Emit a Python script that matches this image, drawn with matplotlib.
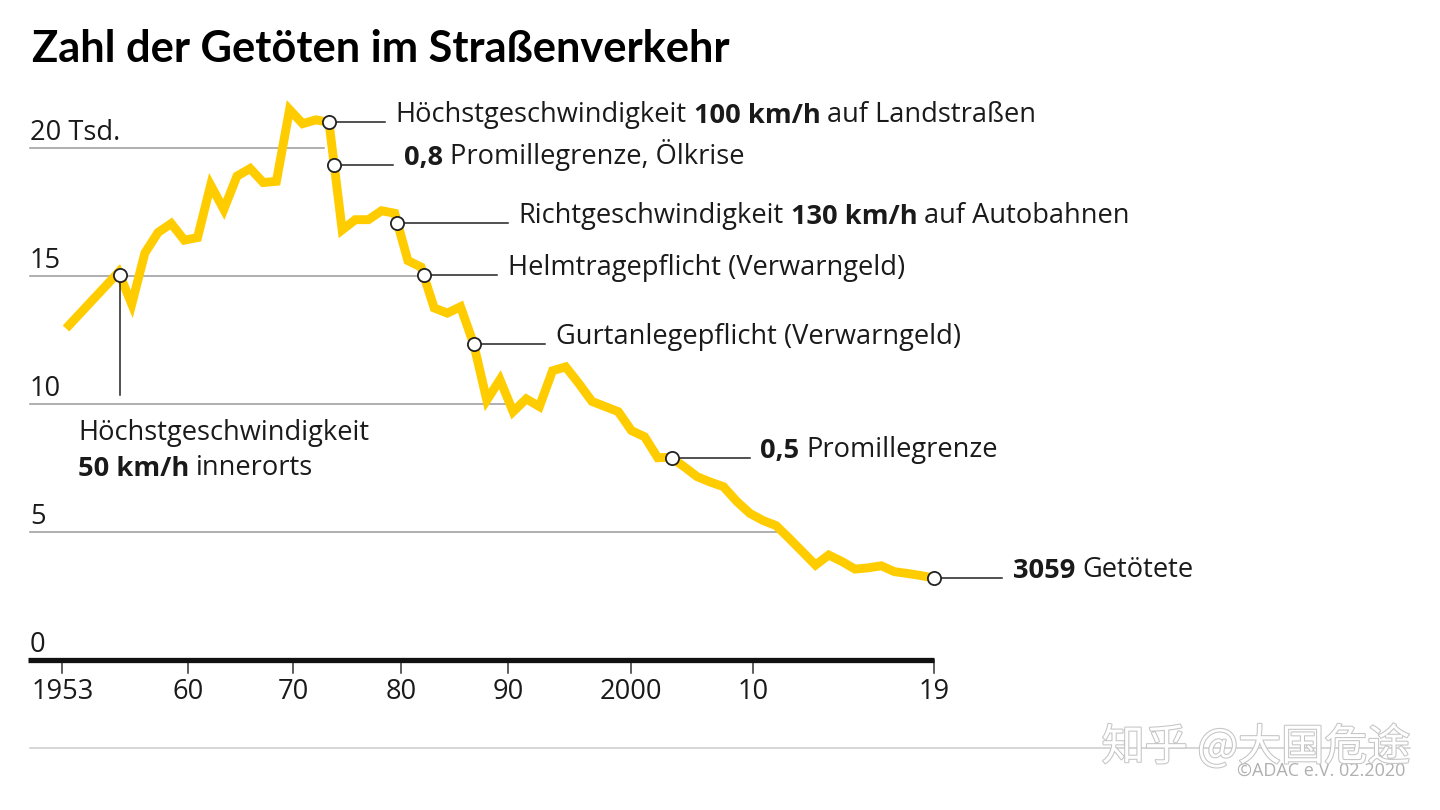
import numpy as np
import matplotlib
matplotlib.use('Agg')
import matplotlib.pyplot as plt
import matplotlib.patheffects as pe

plt.rcParams['font.family'] = ['Open Sans', 'DejaVu Sans']

# Verkehrstote pro Jahr (Tsd.)
years = list(range(1953, 2020))
deaths = [12.95, 13.5, 14.05, 14.6, 15.15, 13.9, 15.9, 16.7, 17.05, 16.4,
          16.5, 18.55, 17.6, 18.9, 19.2, 18.65, 18.7, 21.5, 20.95, 21.1,
          21.0, 16.8, 17.2, 17.2, 17.55, 17.45, 15.6, 15.35, 13.75, 13.55,
          13.8, 12.35, 10.15, 10.95, 9.7, 10.2, 9.9, 11.3, 11.45, 10.8,
          10.1, 9.9, 9.7, 8.96, 8.72, 7.9, 7.92, 7.55, 7.16, 6.95,
          6.77, 6.2, 5.73, 5.45, 5.25, 4.75, 4.23, 3.71, 4.1, 3.85,
          3.55, 3.6, 3.68, 3.45, 3.38, 3.3, 3.2]

y_ticks = [0, 5, 10, 15, 20]
y_labels = ['0', '5', '10', '15', '20 Tsd.']
grid_end = [None, 2007.3, 1986.6, 1980.4, 1972.6]   # gridline stops at the curve

# tick marks sit where the original graphic put them (not exactly on the years)
tick_pos = [1952.72, 1962.25, 1970.26, 1978.48, 1986.61, 1995.94, 2005.27, 2019.0]
tick_labels = ['1953', '60', '70', '80', '90', '2000', '10', '19']

# events: marker year on the curve, end of leader line, label pieces (text, bold)
ev_year = [1973.0, 1973.4, 1978.2, 1980.2, 1984.0, 1999.1, 2019.0]
ev_end = [1977.26, 1977.87, 1986.6, 1985.78, 1989.43, 2005.0, 2024.2]
ev_text = [
    [('Höchstgeschwindigkeit', False), ('100 km/h', True), ('auf Landstraßen', False)],
    [('0,8', True), ('Promillegrenze, Ölkrise', False)],
    [('Richtgeschwindigkeit', False), ('130 km/h', True), ('auf Autobahnen', False)],
    [('Helmtragepflicht (Verwarngeld)', False)],
    [('Gurtanlegepflicht (Verwarngeld)', False)],
    [('0,5', True), ('Promillegrenze', False)],
    [('3059', True), ('Getötete', False)],
]
ev50_year = 1957.1

YELLOW = '#FFCC00'
TXT = '#1a1a1a'
FS = 19.6

# pixel layout: 1953 -> x=66px, 13.15 px per year; 0 -> y=660px, 25.6 px per 1000
PXY, PXV = 13.15, 25.6
def px_x(p):
    return 1953 + (p - 66) / PXY
def px_y(p):
    return (660 - p) / PXV

fig = plt.figure(figsize=(14.4, 8.1), dpi=100)
ax = fig.add_axes([0, 0, 1, 1])
ax.set_xlim(px_x(0), px_x(1440))
ax.set_ylim(px_y(810), px_y(0))
ax.axis('off')


def rich(x, y, parts, size=FS):
    t = ax.text(x, y, parts[0][0], fontsize=size, color=TXT, va='baseline',
                fontweight='bold' if parts[0][1] else 'normal')
    for s, b in parts[1:]:
        t = ax.annotate(s, xy=(1, 0), xycoords=t, xytext=(5, 0),
                        textcoords='offset points', fontsize=size, color=TXT,
                        va='bottom', fontweight='bold' if b else 'normal')
    return t


# title
ax.text(px_x(32), px_y(62), 'Zahl der Getöten im Straßenverkehr', fontsize=31.2,
        fontweight='bold', color='#000', va='baseline',
        family=['Lato', 'Open Sans', 'DejaVu Sans'])

# grid + y labels
for v, lab, end in zip(y_ticks, y_labels, grid_end):
    if end is not None:
        ax.plot([px_x(30), end], [v, v], color='#9a9a9a', lw=1.1, zorder=1)
    ax.text(px_x(30), v + 0.31, lab, fontsize=FS, color=TXT, va='baseline')

# x axis
ax.plot([px_x(28), tick_pos[-1]], [0, 0], color='#111', lw=3.8,
        solid_capstyle='butt', zorder=2)
for p, lab in zip(tick_pos, tick_labels):
    ax.plot([p, p], [0, px_y(673)], color='#333', lw=1.1, zorder=1)
    ax.text(p, px_y(692), lab, fontsize=FS, color=TXT, ha='center', va='center')

# data line
ax.plot(years, deaths, color=YELLOW, lw=6.4, solid_joinstyle='miter',
        solid_capstyle='butt', zorder=3)

# annotations
for yr, end, parts in zip(ev_year, ev_end, ev_text):
    v = np.interp(yr, years, deaths)
    ax.plot([yr, end], [v, v], color='#222', lw=1.1, zorder=4)
    ax.plot(yr, v, 'o', ms=9.5, mfc='white', mec='#222', mew=1.3, zorder=5)
    rich(end + 0.8, v, parts)

v50 = np.interp(ev50_year, years, deaths)
ax.plot([ev50_year, ev50_year], [v50, px_y(395)], color='#222', lw=1.1, zorder=4)
ax.plot(ev50_year, v50, 'o', ms=9.5, mfc='white', mec='#222', mew=1.3, zorder=5)
ax.text(px_x(78), px_y(440), 'Höchstgeschwindigkeit', fontsize=FS, color=TXT,
        va='baseline')
rich(px_x(78), px_y(476), [('50 km/h', True), ('innerorts', False)])

# footer
ax.plot([px_x(30), px_x(1410)], [px_y(748), px_y(748)], color='#cccccc', lw=1.1)
ax.text(px_x(1405), px_y(771), '©ADAC e.V. 02.2020', fontsize=13, color='#b0b0b0',
        ha='right', va='center')
ax.text(px_x(1410), px_y(748), '知乎 @大国危途', fontsize=31, color='white',
        ha='right', va='center', family=['Noto Sans CJK SC', 'DejaVu Sans'],
        path_effects=[pe.withStroke(linewidth=1.5, foreground='#c4c4c4')])

fig.savefig('out.png', dpi=100)
